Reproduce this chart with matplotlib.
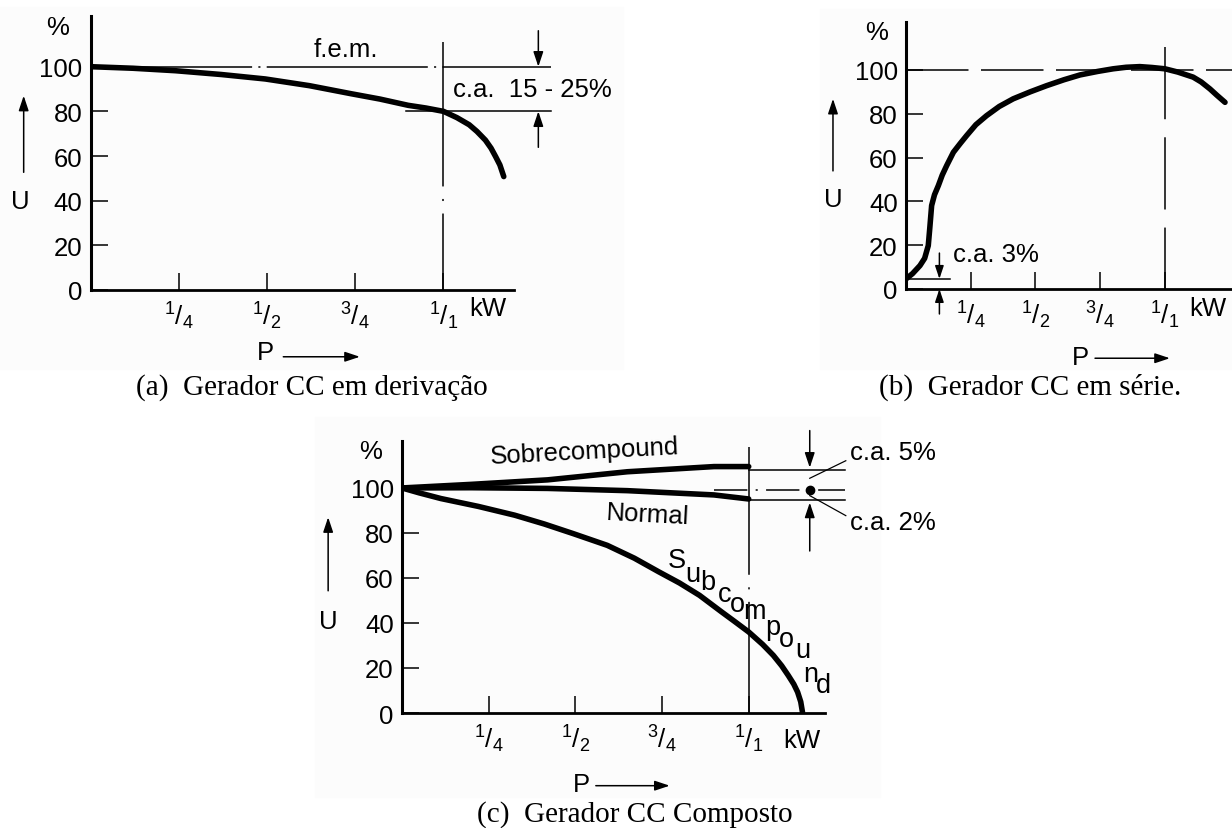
import matplotlib.pyplot as plt
from matplotlib.patches import Rectangle

plt.rcParams['font.family'] = ['Liberation Sans', 'DejaVu Sans']
plt.rcParams['mathtext.fontset'] = 'custom'
plt.rcParams['mathtext.rm'] = 'Liberation Sans'
plt.rcParams['mathtext.it'] = 'Liberation Sans:italic'
plt.rcParams['mathtext.bf'] = 'Liberation Sans:bold'
plt.rcParams['lines.scale_dashes'] = False

W, H = 1232, 829

# ---- data (P as fraction of rated kW, U in %) ----
yticks = [0, 20, 40, 60, 80, 100]
xticks = [0.25, 0.5, 0.75, 1.0]
xtick_labels = [r'${}^{1}/_{4}$', r'${}^{1}/_{2}$', r'${}^{3}/_{4}$', r'${}^{1}/_{1}$']

# (a) shunt generator
shunt_p = [0, 0.12, 0.24, 0.37, 0.495, 0.62, 0.738, 0.82, 0.9, 0.95, 1.0, 1.038,
           1.073, 1.095, 1.119, 1.135, 1.148, 1.16, 1.171]
shunt_u = [100, 99.3, 98.2, 96.5, 94.5, 91.5, 87.9, 85.5, 82.7, 81.5, 80, 77.2,
           74.0, 71.0, 67.1, 63.5, 59.7, 56.0, 50.8]

# (b) series generator
series_p = [0, 0.025, 0.054, 0.072, 0.086, 0.092, 0.099, 0.11, 0.125, 0.14, 0.157,
            0.183, 0.21, 0.234, 0.27, 0.311, 0.36, 0.414, 0.48, 0.543, 0.61, 0.672,
            0.74, 0.80, 0.85, 0.903, 0.95, 1.0, 1.05, 1.109, 1.14, 1.174, 1.2, 1.232]
series_u = [4.6, 7.0, 10.7, 14.0, 19.8, 28.0, 38.1, 43.0, 47.2, 52.0, 56.3,
            62.4, 66.5, 70.0, 75.0, 79.1, 83.3, 86.8, 90.0, 92.8, 95.5, 97.7,
            99.3, 100.5, 101.2, 101.5, 101.1, 100.5, 99.0, 96.7, 94.5, 91.3, 88.5, 85.2]

# (c) compound generator
comp_p = [0, 0.2, 0.42, 0.65, 0.9, 1.0]
over_u = [100, 101.6, 103.6, 107.2, 109.5, 109.5]
normal_u = [100, 100.1, 99.8, 98.8, 96.9, 95.1]
under_p = [0, 0.05, 0.112, 0.22, 0.325, 0.41, 0.494, 0.592, 0.67, 0.741, 0.8, 0.858,
           0.922, 0.96, 1.0, 1.04, 1.071, 1.095, 1.114, 1.13, 1.141, 1.15, 1.155]
under_u = [100, 97.8, 95.3, 91.8, 87.9, 84.0, 79.7, 74.5, 68.8, 62.7, 57.8, 52.3,
           44.9, 40.6, 36.0, 30.5, 25.6, 21.0, 16.7, 12.8, 9.3, 5.0, 0.4]

captions = ['(a)  Gerador CC em derivação', '(b)  Gerador CC em série.', '(c)  Gerador CC Composto']

FS = 18.5
CURVE_LW = 4.0
THIN = 1.1

fig = plt.figure(figsize=(W / 100, H / 100), dpi=100)

# faint scanned-paper boxes behind the panels
for (x0, y0, x1, y1) in [(0, 8, 623, 370), (820, 10, 1232, 370), (315, 418, 880, 798)]:
    fig.add_artist(Rectangle((x0 / W, 1 - y1 / H), (x1 - x0) / W, (y1 - y0) / H,
                             transform=fig.transFigure, color='#fcfcfc', zorder=-10))


def px_axes(left, top, right, bottom):
    return fig.add_axes([left / W, 1 - bottom / H, (right - left) / W, (bottom - top) / H])


def style(ax, xmax, ymax):
    ax.set_xlim(0, xmax)
    ax.set_ylim(0, ymax)
    ax.patch.set_alpha(0)
    for s in ['top', 'right']:
        ax.spines[s].set_visible(False)
    ax.spines['left'].set_linewidth(2.2)
    ax.spines['bottom'].set_linewidth(2.0)
    ax.set_yticks(yticks)
    ax.set_yticklabels([str(v) for v in yticks])
    ax.set_xticks(xticks)
    ax.set_xticklabels(xtick_labels)
    ax.tick_params(direction='in', length=12, width=THIN, labelsize=FS)
    ax.tick_params(axis='y', pad=6)
    ax.tick_params(axis='x', pad=7)


def arrow(ax, x0, y0, x1, y1, ms=15):
    ax.annotate('', xy=(x1, y1), xytext=(x0, y0), annotation_clip=False,
                arrowprops=dict(arrowstyle='-|>,head_length=0.6,head_width=0.2', color='k',
                                lw=THIN, mutation_scale=ms, shrinkA=0, shrinkB=0))


def axis_names(ax, pct, u, u_arrow, p, p_arrow, kw):
    ax.text(*pct, '%', fontsize=FS, ha='center', va='center', clip_on=False)
    ax.text(*u, 'U', fontsize=FS, ha='center', va='center', clip_on=False)
    arrow(ax, u_arrow[0], u_arrow[1], u_arrow[0], u_arrow[2])
    ax.text(*p, 'P', fontsize=FS, ha='center', va='center', clip_on=False)
    arrow(ax, p_arrow[0], p_arrow[2], p_arrow[1], p_arrow[2])
    ax.text(*kw, 'kW', fontsize=FS, ha='center', va='center', clip_on=False)


def curve(ax, x, y):
    ax.plot(x, y, color='k', lw=CURVE_LW, solid_capstyle='round',
            solid_joinstyle='round', zorder=5)


# ---------------- (a) ----------------
ax = px_axes(90.7, 17, 514, 291)
style(ax, 1.2, 122.7)
curve(ax, shunt_p, shunt_u)
ax.plot([0, 1.304], [100, 100], color='k', lw=THIN, dashes=(116, 4.5, 1.5, 4.5), clip_on=False)
ax.plot([1.0, 1.0], [110.9, 0], color='k', lw=THIN, dashes=(104, 9, 1.5, 9), clip_on=False)
ax.plot([0.893, 1.304], [80, 80], color='k', lw=THIN, clip_on=False)
arrow(ax, 1.269, 116.1, 1.269, 100)
arrow(ax, 1.269, 63.9, 1.269, 80)
ax.text(0.722, 108, 'f.e.m.', fontsize=FS, ha='center', va='center')
ax.text(1.026, 90, 'c.a.  15 - 25%', fontsize=FS, ha='left', va='center', clip_on=False)
axis_names(ax, (-0.095, 117.6), (-0.2, 40), (-0.19, 52.7, 87), (0.494, -27.8),
           (0.546, 0.763, -29.9), (1.125, -8))

# ---------------- (b) ----------------
ax = px_axes(906, 22.7, 1232, 290)
style(ax, 1.259, 122)
curve(ax, series_p, series_u)
ax.plot([0, 1.259], [100, 100], color='k', lw=THIN, dashes=(45, 9), clip_on=False)
ax.plot([1.0, 1.0], [110.4, 0], color='k', lw=THIN, dashes=(52, 13), clip_on=False)
ax.plot([0, 0.17], [4.6, 4.6], color='k', lw=THIN, clip_on=False)
arrow(ax, 0.129, 16.4, 0.129, 4.6, ms=13)
arrow(ax, 0.129, -11.4, 0.129, 0, ms=13)
ax.text(0.183, 16, 'c.a. 3%', fontsize=FS, ha='left', va='center')
axis_names(ax, (-0.113, 117.2), (-0.282, 41.1), (-0.282, 53.9, 86.8), (0.672, -31),
           (0.73, 1.019, -31.6), (1.166, -8.5))

# ---------------- (c) ----------------
ax = px_axes(402, 441.7, 825, 714)
style(ax, 1.22, 121)
curve(ax, comp_p, over_u)
curve(ax, comp_p, normal_u)
curve(ax, under_p, under_u)
ax.plot([1.0, 1.0], [118, 0], color='k', lw=THIN, dashes=(92, 9, 1.5, 9), clip_on=False)
ax.plot([1.0, 1.277], [108.1, 108.1], color='k', lw=THIN, clip_on=False)
ax.plot([0.9, 1.277], [99.3, 99.3], color='k', lw=THIN, dashes=(24, 6, 1.5, 6), clip_on=False)
ax.plot([1.0, 1.277], [94.8, 94.8], color='k', lw=THIN, clip_on=False)
ax.plot([1.176], [99.3], 'o', color='k', ms=6, clip_on=False, zorder=6)
arrow(ax, 1.176, 125.5, 1.176, 109)
arrow(ax, 1.176, 72, 1.176, 93.5)
ax.plot([1.176, 1.28], [104.3, 112.1], color='k', lw=THIN * 0.8, clip_on=False)
ax.plot([1.176, 1.28], [96.6, 87.7], color='k', lw=THIN * 0.8, clip_on=False)
ax.text(1.291, 115.8, 'c.a. 5%', fontsize=FS, ha='left', va='center', clip_on=False)
ax.text(1.291, 84.7, 'c.a. 2%', fontsize=FS, ha='left', va='center', clip_on=False)
ax.text(0.528, 116.6, 'Sobrecompound', fontsize=FS, ha='center', va='center', rotation=3)
ax.text(0.709, 88.4, 'Normal', fontsize=FS, ha='center', va='center', rotation=-3)
sub_pos = [(0.793, 68.1), (0.839, 61.8), (0.882, 58.1), (0.931, 52.9), (0.968, 48.4),
           (1.017, 45.5), (1.069, 38.1), (1.109, 32.9), (1.155, 27.9), (1.178, 17.5),
           (1.215, 12.3)]
for ch, (x, y) in zip('Subcompound', sub_pos):
    ax.text(x, y, ch, fontsize=19.5, ha='center', va='center', clip_on=False)
axis_names(ax, (-0.092, 116.6), (-0.213, 41), (-0.213, 54.3, 87), (0.518, -31.6),
           (0.559, 0.772, -32.3), (1.153, -12))

# captions
for cx, cy, txt in [(312, 388, captions[0]), (1030, 387, captions[1]), (635, 815, captions[2])]:
    fig.text(cx / W, 1 - cy / H, txt, family='Liberation Serif', fontsize=21,
             ha='center', va='center')

fig.savefig('out.png', dpi=100)
